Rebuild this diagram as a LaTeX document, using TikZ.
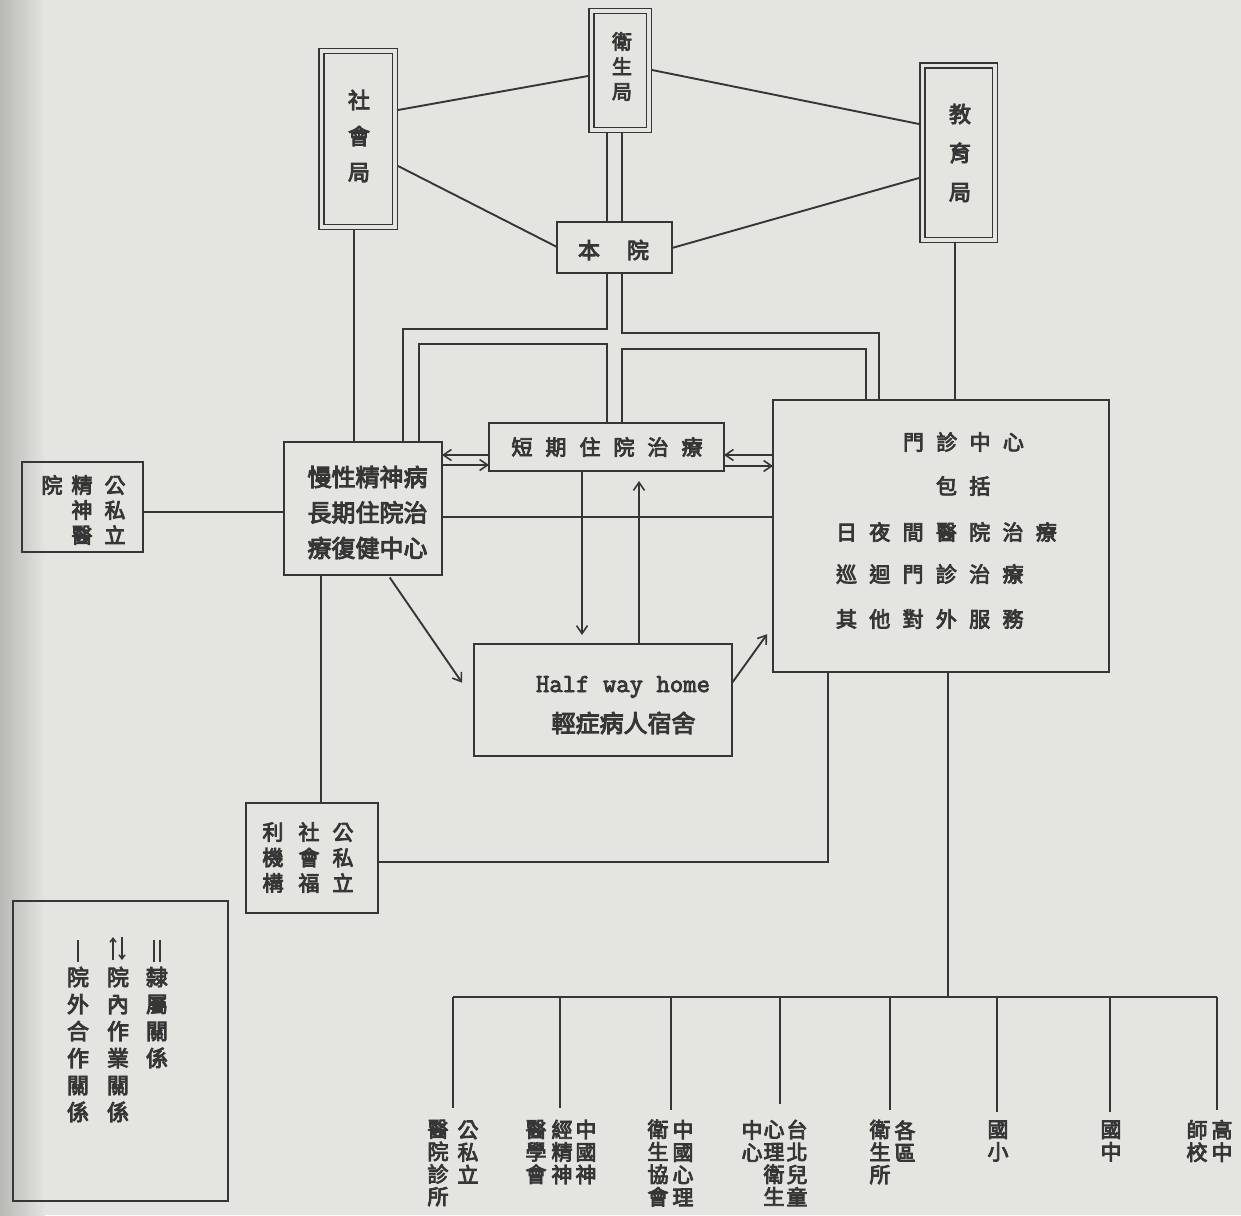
\documentclass[tikz,border=0pt]{standalone}
\usepackage{fontspec}
\newfontfamily\cjk[FakeBold=4]{Noto Sans CJK TC}
\newfontfamily\hwfont[FakeBold=3]{Latin Modern Mono}
\usetikzlibrary{arrows.meta}
\definecolor{ink}{HTML}{363636}
\definecolor{paper}{HTML}{E4E4E0}
\definecolor{paperdark}{HTML}{B8B8B4}
\newcommand\cjkfs[2]{\cjk\fontsize{#1}{#2}\selectfont}
\newcommand\spaced[2]{\def\spgap{\hspace{#1}}\spacedi#2\relax}
\def\spacedi#1{\ifx#1\relax\else#1\expandafter\spacedii\fi}
\def\spacedii#1{\ifx#1\relax\else\spgap#1\expandafter\spacedii\fi}
\begin{document}
\begin{tikzpicture}[x=1pt,y=-1pt,
  line/.style={draw=ink, line width=1.9pt},
  box/.style={draw=ink, line width=1.9pt, inner sep=0pt, outer sep=0pt},
  dbox/.style={draw=ink, line width=1.5pt, double=paper, double distance=3.5pt, inner sep=0pt, outer sep=3.25pt},
  txt/.style={text=ink, inner sep=0pt, outer sep=0pt},
  vt/.style={txt, align=center},
  lab/.style={vt, font=\cjkfs{21}{22.5}},
  arr/.style={line, -{Straight Barb[length=8pt,width=11pt,line width=1.6pt]}},
]
\useasboundingbox (0,0) rectangle (1241,1215);
\fill[paper] (0,0) rectangle (1241,1215);
\shade[left color=paperdark, right color=paper] (0,0) rectangle (45,1215);

% ---------- top authorities ----------
\node[dbox, minimum width=73.5pt, minimum height=175.5pt] (shj) at (358,139) {};
\node[vt, font=\cjkfs{22}{36}] (shjt) at (359,136) {社\\會\\局};
\node[dbox, minimum width=57.5pt, minimum height=118.5pt] (wsj) at (620,70.5) {};
\node[vt, font=\cjkfs{20}{25}] (wsjt) at (622,66.5) {衛\\生\\局};
\node[dbox, minimum width=72.5pt, minimum height=174.5pt] (jyj) at (958.5,152.5) {};
\node[vt, font=\cjkfs{22}{39}] (jyjt) at (960,153) {教\\育\\局};
\node[box, minimum width=115pt, minimum height=51pt] (by) at (614.5,247.5) {};
\node[txt, font=\cjkfs{22}{26}] (byt) at (613.5,250) {\spaced{27pt}{本院}};

% ---------- middle boxes ----------
\node[box, minimum width=121pt, minimum height=90pt] (gsj) at (82.5,507) {};
\node[vt, font=\cjkfs{21}{25}] (gsja) at (115,510) {公\\私\\立};
\node[vt, font=\cjkfs{21}{25}] (gsjb) at (82,510) {精\\神\\醫};
\node[vt, font=\cjkfs{21}{25}] (gsjc) at (52,485) {院};

\node[box, minimum width=158pt, minimum height=133pt] (mx) at (363,508.5) {};
\node[vt, font=\cjkfs{24}{35.5}] (mxt) at (367.5,512.5) {慢性精神病\\長期住院治\\療復健中心};

\node[box, minimum width=235pt, minimum height=48pt] (dq) at (606.5,447) {};
\node[txt, font=\cjkfs{21}{26}] (dqt) at (607,447) {\spaced{13pt}{短期住院治療}};

\node[box, minimum width=336pt, minimum height=272pt] (mz) at (941,536) {};
\node[txt, anchor=west, font=\cjkfs{21}{26}] (mz1) at (903,442) {\spaced{12.3pt}{門診中心}};
\node[txt, anchor=west, font=\cjkfs{21}{26}] (mz2) at (936,486) {\spaced{12.3pt}{包括}};
\node[txt, anchor=west, font=\cjkfs{21}{26}] (mz3) at (836,532) {\spaced{12.3pt}{日夜間醫院治療}};
\node[txt, anchor=west, font=\cjkfs{21}{26}] (mz4) at (836,574) {\spaced{12.3pt}{巡迴門診治療}};
\node[txt, anchor=west, font=\cjkfs{21}{26}] (mz5) at (836,619) {\spaced{12.3pt}{其他對外服務}};

\node[box, minimum width=258pt, minimum height=112pt] (hw) at (603,700) {};
\node[txt, anchor=base, font=\hwfont\fontsize{26}{30}\selectfont] (hwt1) at (623,692) {Half way home};
\node[txt, font=\cjkfs{24}{28}] (hwt2) at (623.5,723) {輕症病人宿舍};

\node[box, minimum width=132pt, minimum height=110pt] (sf) at (312,858) {};
\node[vt, font=\cjkfs{21}{25.5}] (sfa) at (343,857.5) {公\\私\\立};
\node[vt, font=\cjkfs{21}{25.5}] (sfb) at (309,857.5) {社\\會\\福};
\node[vt, font=\cjkfs{21}{25.5}] (sfc) at (273,857.5) {利\\機\\構};

% ---------- legend ----------
\node[box, minimum width=215pt, minimum height=300pt] (leg) at (120.5,1051) {};
\node[vt, font=\cjkfs{22}{27}] (lg1) at (157,1017.5) {隸\\屬\\關\\係};
\node[vt, font=\cjkfs{22}{27}] (lg2) at (118,1044.5) {院\\內\\作\\業\\關\\係};
\node[vt, font=\cjkfs{22}{27}] (lg3) at (78,1044.5) {院\\外\\合\\作\\關\\係};
\draw[ink, line width=1.5pt] (154,940) -- (154,962) (160,940) -- (160,962);
\draw[ink, line width=1.5pt, -{Straight Barb[length=4pt,width=6pt]}] (113,960) -- (113,937);
\draw[ink, line width=1.5pt, -{Straight Barb[length=4pt,width=6pt]}] (122,937) -- (122,960);
\draw[ink, line width=1.5pt] (78,940) -- (78,962);

% ---------- bottom labels ----------
\node[lab] (l1a) at (468,1152) {公\\私\\立};
\node[lab] (l1b) at (438,1163) {醫\\院\\診\\所};
\node[lab] (l2a) at (586,1152) {中\\國\\神};
\node[lab] (l2b) at (562,1152) {經\\精\\神};
\node[lab] (l2c) at (536,1152) {醫\\學\\會};
\node[lab] (l3a) at (683,1163) {中\\國\\心\\理};
\node[lab] (l3b) at (658,1163) {衛\\生\\協\\會};
\node[lab] (l4a) at (797,1163) {台\\北\\兒\\童};
\node[lab] (l4b) at (774,1163) {心\\理\\衛\\生};
\node[lab] (l4c) at (752,1141) {中\\心};
\node[lab] (l5a) at (905,1141) {各\\區};
\node[lab] (l5b) at (880,1152) {衛\\生\\所};
\node[lab] (l6) at (998,1141) {國\\小};
\node[lab] (l7) at (1111,1141) {國\\中};
\node[lab] (l8a) at (1222,1141) {高\\中};
\node[lab] (l8b) at (1197,1141) {師\\校};

\coordinate (tj) at (948,997);
\coordinate (t1) at (453,1108);
\coordinate (t2) at (560,1108);
\coordinate (t3) at (671,1110);
\coordinate (t4) at (780,1104);
\coordinate (t5) at (890,1110);
\coordinate (t6) at (997,1112);
\coordinate (t7) at (1110,1112);
\coordinate (t8) at (1217,1110);

% ---------- connectors ----------
\draw[line] (shj.east |- 0,110) -- (wsj.west |- 0,76);
\draw[line] (shj.east |- 0,166) -- (by.west |- 0,247);
\draw[line] (wsj.east |- 0,70) -- (jyj.west |- 0,124);
\draw[line] (by.east |- 0,248) -- (jyj.west |- 0,178);
\draw[line] (wsj.south -| 607,0) -- (by.north -| 607,0);
\draw[line] (wsj.south -| 622,0) -- (by.north -| 622,0);
\draw[line] (shj.south -| 354,0) -- (mx.north -| 354,0);
\draw[line] (jyj.south -| 955,0) -- (mz.north -| 955,0);
\draw[line] (by.south -| 607,0) |- (403,329) -- (mx.north -| 403,0);
\draw[line] (mx.north -| 419,0) |- (607,344) -- (dq.north -| 607,0);
\draw[line] (by.south -| 622,0) |- (879,333) -- (mz.north -| 879,0);
\draw[line] (dq.north -| 622,0) |- (866,349) -- (mz.north -| 866,0);

\draw[arr] (dq.west |- 0,455) -- (mx.east |- 0,455);
\draw[arr] (mx.east |- 0,465) -- (dq.west |- 0,465);
\draw[arr] (mz.west |- 0,455) -- (dq.east |- 0,455);
\draw[arr] (dq.east |- 0,466) -- (mz.west |- 0,466);
\draw[arr, shorten >=9pt] (dq.south -| 582,0) -- (hw.north -| 582,0);
\draw[arr, shorten >=10pt] (hw.north -| 639,0) -- (dq.south -| 639,0);
\draw[arr, shorten <=3pt, shorten >=21pt] (mx.south -| 388,0) -- (hw.west |- 0,700);
\draw[arr, shorten <=1pt, shorten >=10pt] (hw.east |- 0,683) -- (mz.west |- 0,626);

\draw[line] (gsj.east |- 0,512) -- (mx.west |- 0,512);
\draw[line] (mx.east |- 0,517) -- (mz.west |- 0,517);
\draw[line] (mx.south -| 321,0) -- (sf.north -| 321,0);
\draw[line] (sf.east |- 0,862) -| (mz.south -| 828,0);
\draw[line] (mz.south -| tj) -- (tj);
\draw[line] (t1 |- tj) -- (t8 |- tj);
\foreach \t in {t1,t2,t3,t4,t5,t6,t7,t8} \draw[line] (\t |- tj) -- (\t);
\end{tikzpicture}
\end{document}
